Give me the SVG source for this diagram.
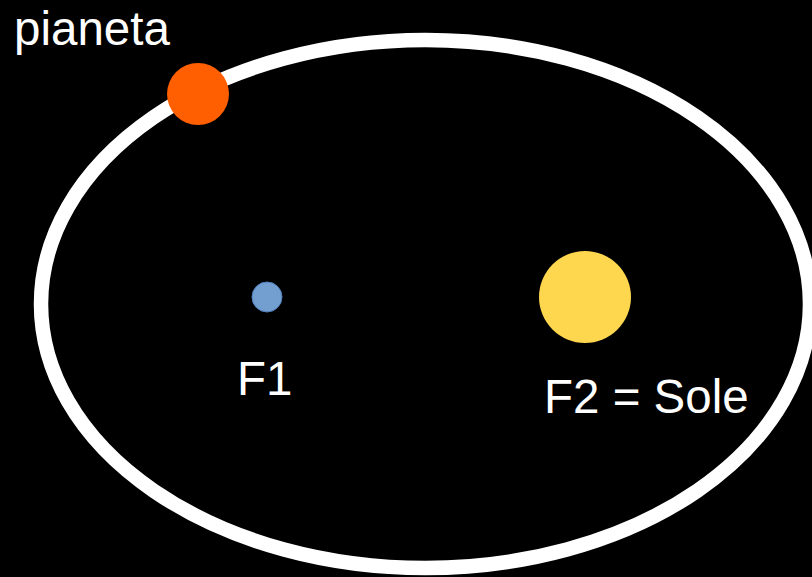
<svg xmlns="http://www.w3.org/2000/svg" width="812" height="577" viewBox="0 0 812 577">
<style>
text{font-family:"Liberation Sans",Arial,sans-serif;font-size:47.5px;fill:#ffffff}
</style>
<rect x="0" y="0" width="812" height="577" fill="#000000"/>
<g id="orbit">
<ellipse cx="425.5" cy="304" rx="384.5" ry="264" fill="none" stroke="#ffffff" stroke-width="14.5"/>
</g>
<g id="pianeta">
<circle cx="198" cy="94" r="31" fill="#ff5f00"/>
<text x="14" y="45">pianeta</text>
</g>
<g id="F1">
<circle cx="267" cy="297" r="15" fill="#729fcf" stroke="#4f7fbf" stroke-width="1"/>
<text x="237" y="395">F1</text>
</g>
<g id="F2">
<circle cx="585" cy="297" r="46" fill="#ffd74f"/>
<text x="544" y="413">F2 = Sole</text>
</g>
<g id="connectors"></g>
</svg>
